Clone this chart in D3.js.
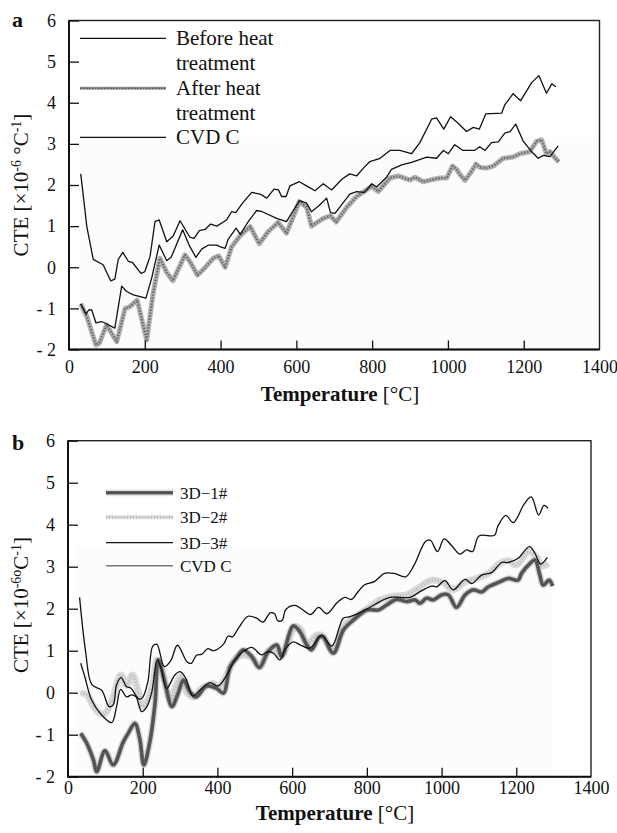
<!DOCTYPE html>
<html>
<head>
<meta charset="utf-8" />
<script src="https://cdn.jsdelivr.net/npm/d3@7"></script>
<style>
  body { margin: 0; background: #fff; }
  text { font-family: "Liberation Serif", "Times New Roman", serif; fill: #111; }
</style>
</head>
<body>
<script>
// axis ticks
var tempTicks = [0, 200, 400, 600, 800, 1000, 1200, 1400];
var cteTicks = [-2, -1, 0, 1, 2, 3, 4, 5, 6];

// CVD C (same curve in both panels)
var cvdT = [31,47,64,90,110,121,130,142,157,168,190,200,214,227,238,258,275,293,319,330,344,359,374,390,416,429,440,458,482,504,522,541,553,561,573,583,608,627,649,671,693,720,741,759,777,794,821,847,873,904,926,957,970,989,1007,1027,1049,1067,1083,1100,1142,1150,1172,1192,1221,1240,1260,1274,1285];
var cvdV = [2.27,0.99,0.19,0.06,-0.33,-0.29,0.19,0.36,0.14,0.11,-0.15,-0.11,0.27,1.11,1.15,0.62,0.76,1.13,0.73,0.70,0.89,0.92,1.05,1.00,1.15,1.35,1.33,1.56,1.82,1.78,1.68,1.90,1.88,1.72,1.72,1.98,2.08,1.98,1.86,2.03,1.88,2.14,2.27,2.22,2.41,2.57,2.65,2.84,2.84,2.76,3.03,3.60,3.63,3.36,3.66,3.50,3.30,3.40,3.36,3.73,3.75,3.95,4.22,4.05,4.49,4.66,4.23,4.46,4.39];

// panel a: before heat treatment
var beforeT = [31,45,52,60,71,86,100,121,139,152,170,203,218,238,258,270,300,319,335,350,368,390,398,412,420,441,452,473,495,510,548,574,608,627,640,660,680,690,702,741,759,780,799,812,838,851,878,904,944,970,988,1001,1018,1040,1070,1084,1098,1115,1133,1150,1164,1179,1199,1221,1238,1252,1269,1291];
var beforeV = [-0.89,-1.14,-1.04,-1.04,-1.35,-1.32,-1.38,-1.48,-0.46,-0.59,-0.67,-0.75,-0.27,0.54,0.16,0.25,0.91,0.50,0.24,0.44,0.54,0.54,0.50,0.46,0.68,0.95,0.80,1.11,1.38,1.35,1.19,1.11,1.62,1.56,1.35,1.50,1.68,1.33,1.31,1.78,1.84,1.82,2.03,1.95,2.19,2.38,2.49,2.55,2.68,2.65,2.84,2.76,2.98,2.84,2.84,2.93,2.84,3.03,3.05,3.26,3.30,3.48,3.06,2.81,2.65,2.72,2.69,2.95];

// panel a: after heat treatment
var afterT = [31,47,71,80,99,126,148,159,180,205,222,240,258,274,306,319,339,355,381,395,412,429,451,478,502,526,552,574,592,608,627,640,671,690,705,733,759,785,799,816,847,869,900,913,935,953,979,997,1012,1023,1032,1045,1062,1074,1084,1100,1120,1146,1172,1190,1216,1234,1247,1260,1269,1287,1293];
var afterV = [-0.89,-1.20,-1.89,-1.85,-1.40,-1.81,-1.00,-0.97,-0.80,-1.77,-0.63,0.22,-0.13,-0.33,0.30,0.14,-0.19,-0.05,0.22,0.28,0.00,0.49,0.76,0.99,0.57,0.87,1.09,0.83,1.23,1.60,1.46,1.00,1.19,1.25,1.10,1.46,1.72,1.88,1.97,1.84,2.17,2.22,2.12,2.19,2.08,2.12,2.17,2.17,2.46,2.38,2.25,2.11,2.33,2.51,2.43,2.41,2.46,2.65,2.68,2.76,2.81,3.06,3.10,2.76,2.81,2.61,2.56];

// panel b: 3D-1#
var d1T = [34,50,68,77,99,121,148,161,179,192,203,219,233,242,260,278,295,309,327,343,371,398,416,434,451,469,492,512,536,559,572,603,621,639,652,673,683,710,737,764,800,831,853,880,907,929,942,960,978,1000,1018,1040,1063,1085,1107,1125,1156,1179,1205,1214,1237,1250,1263,1272,1288,1297];
var d1V = [-0.97,-1.20,-1.60,-1.88,-1.38,-1.72,-1.17,-0.97,-0.73,-1.10,-1.72,-1.17,-0.25,0.78,0.22,-0.33,-0.01,0.30,0.02,-0.10,0.16,0.10,-0.01,0.62,0.82,1.02,0.86,0.60,0.98,1.14,0.86,1.59,1.45,1.14,1.02,1.33,1.33,0.94,1.49,1.73,1.97,1.97,2.09,2.22,2.17,2.21,2.13,2.25,2.21,2.33,2.33,2.03,2.33,2.45,2.40,2.52,2.64,2.72,2.68,2.84,3.08,3.16,2.80,2.56,2.68,2.54];

// panel b: 3D-2#
var d2T = [34,50,68,84,99,120,141,157,173,188,200,215,228,239,255,273,288,302,318,335,358,389,405,429,452,470,490,514,532,550,572,590,608,621,639,666,679,710,737,764,800,835,871,907,938,973,1005,1031,1063,1094,1125,1156,1179,1201,1232,1254,1268,1286];
var d2V = [-0.01,-0.05,-0.33,-0.49,-0.49,-0.13,0.42,0.18,0.42,0.02,-0.33,-0.15,0.25,0.78,0.42,-0.17,0.15,0.38,0.02,-0.10,0.10,0.22,0.15,0.50,0.86,0.90,0.85,0.62,0.94,1.05,0.90,1.25,1.57,1.53,1.18,1.37,1.37,0.98,1.57,1.77,1.99,2.21,2.30,2.33,2.49,2.68,2.62,2.45,2.64,2.72,2.84,3.08,3.14,3.04,3.36,3.24,3.02,3.08];

// panel b: 3D-3#
var d3T = [34,45,63,90,117,130,141,157,170,182,197,210,224,239,250,264,286,300,315,334,353,380,402,425,447,469,492,518,535,550,567,581,603,621,648,679,706,737,755,777,804,835,862,889,915,947,973,987,1009,1031,1063,1081,1107,1134,1161,1179,1205,1235,1250,1265,1283];
var d3V = [0.70,0.38,-0.17,-0.53,-0.71,-0.33,0.08,-0.10,-0.05,-0.10,-0.45,-0.35,0.00,0.78,0.55,0.10,0.42,0.50,0.35,-0.08,0.06,0.24,0.16,0.42,0.78,0.98,1.08,0.90,0.98,0.94,0.78,1.03,1.21,1.14,1.06,1.37,1.11,1.77,1.81,1.89,2.01,2.17,2.27,2.27,2.27,2.43,2.54,2.52,2.67,2.45,2.70,2.60,2.80,2.86,3.10,3.10,3.20,3.48,3.32,3.06,3.22];

var W = 617, H = 833;
var svg = d3.select("body").append("svg").attr("width", W).attr("height", H);

function pts(T, V) { return d3.zip(T, V); }

function makePanel(o) {
  var x = d3.scaleLinear().domain([0, 1400]).range([o.left, o.right]);
  var y = d3.scaleLinear().domain([-2, 6]).range([o.bottom, o.top]);
  var g = svg.append("g");

  // faint shading behind the data (scan background)
  g.append("rect")
    .attr("x", o.shade[0]).attr("y", o.shade[1])
    .attr("width", o.shade[2] - o.shade[0]).attr("height", o.bottom - o.shade[1])
    .attr("fill", "#fcfcfc");

  o.series.forEach(function(s) {
    var line = d3.line().x(function(d) { return x(d[0]); }).y(function(d) { return y(d[1]); })
      .curve(o.smooth ? d3.curveCatmullRom : d3.curveLinear);
    s.strokes.forEach(function(st) {
      g.append("path").datum(pts(s.T, s.V))
        .attr("fill", "none")
        .attr("stroke", st.c).attr("stroke-width", st.w)
        .attr("stroke-dasharray", st.dash || null)
        .attr("stroke-opacity", st.op || 1)
        .attr("stroke-linejoin", "round")
        .attr("d", line);
    });
  });

  // frame
  g.append("rect")
    .attr("x", o.left).attr("y", o.top)
    .attr("width", o.right - o.left).attr("height", o.bottom - o.top)
    .attr("fill", "none").attr("stroke", "#222").attr("stroke-width", 1.4);
  g.append("path")
    .attr("d", "M" + o.left + "," + o.top + "V" + o.bottom + "H" + o.right)
    .attr("fill", "none").attr("stroke", "#111").attr("stroke-width", 2);

  var xa = g.append("g").attr("transform", "translate(0," + o.bottom + ")")
    .call(d3.axisBottom(x).tickValues(tempTicks).tickSizeInner(-9).tickSizeOuter(0)
      .tickPadding(o.xPad).tickFormat(d3.format("d")));
  var ya = g.append("g").attr("transform", "translate(" + o.left + ",0)")
    .call(d3.axisLeft(y).tickValues(cteTicks).tickSizeInner(-10).tickSizeOuter(0).tickPadding(13)
      .tickFormat(function(d) { return d < 0 ? "- " + Math.abs(d) : d; }));
  [xa, ya].forEach(function(a) {
    a.select(".domain").remove();
    a.selectAll("line").attr("stroke", "#111").attr("stroke-width", 1.3);
    a.selectAll("text").attr("font-family", "Liberation Serif").attr("font-size", 18).attr("fill", "#111");
  });
  xa.selectAll(".tick").filter(function(d) { return d === 0 || d === 1400; }).select("line").remove();

  // x title
  var xt = g.append("text").attr("x", o.xTitle[0]).attr("y", o.xTitle[1])
    .attr("text-anchor", "middle").attr("font-size", 21);
  xt.append("tspan").attr("font-weight", "bold").text("Temperature");
  xt.append("tspan").text(" [°C]");

  // y title
  var yt = g.append("text")
    .attr("transform", "translate(" + o.yTitle[0] + "," + o.yTitle[1] + ") rotate(-90)")
    .attr("text-anchor", "middle").attr("font-size", 21);
  o.yParts.forEach(function(p) {
    var t = yt.append("tspan").text(p[0]);
    if (p[1]) t.attr("font-size", 14).attr("baseline-shift", "super");
  });

  // panel letter
  g.append("text").attr("x", o.letter[0]).attr("y", o.letter[1])
    .attr("font-size", 22).attr("font-weight", "bold").text(o.name);

  // legend
  var lg = g.append("g");
  o.legend.forEach(function(l) {
    if (l.strokes) {
      l.strokes.forEach(function(st) {
        lg.append("line")
          .attr("x1", o.legX[0]).attr("x2", o.legX[1]).attr("y1", l.y).attr("y2", l.y)
          .attr("stroke", st.c).attr("stroke-width", st.w)
          .attr("stroke-dasharray", st.dash || null).attr("stroke-opacity", st.op || 1);
      });
    }
    lg.append("text").attr("x", o.legX[2]).attr("y", l.y + o.legDy)
      .attr("font-size", o.legFont).text(l.text);
  });
}

var thin = [{ c: "#111", w: 1.3 }];
var afterStyle = [{ c: "#b0b0b0", w: 5 }, { c: "#6a6a6a", w: 2.2, dash: "1.5,1.5" }];
var d1Style = [{ c: "#aaa", w: 6.5, op: 0.45 }, { c: "#5e5e5e", w: 3.8 }, { c: "#3c3c3c", w: 1.6, dash: "1,1.5" }];
var d2Style = [{ c: "#dadada", w: 7 }, { c: "#b8b8b8", w: 3, dash: "1,2" }];

makePanel({
  name: "a", letter: [12, 27],
  left: 69, right: 599.5, top: 20.5, bottom: 349.5,
  shade: [79, 137, 597],
  smooth: false, xPad: 11,
  series: [
    { T: afterT, V: afterV, strokes: afterStyle },
    { T: beforeT, V: beforeV, strokes: thin },
    { T: cvdT, V: cvdV, strokes: thin }
  ],
  xTitle: [340, 401],
  yTitle: [28, 185],
  yParts: [["CTE [×10"], ["-6", true], [" °C"], ["-1", true], ["]"]],
  legX: [80, 166, 176], legDy: 7, legFont: 21,
  legend: [
    { y: 38.3, text: "Before heat", strokes: thin },
    { y: 63, text: "treatment" },
    { y: 88.3, text: "After heat", strokes: [{ c: "#999", w: 3 }, { c: "#555", w: 1.5, dash: "1.5,1.5" }] },
    { y: 113, text: "treatment" },
    { y: 137.3, text: "CVD C", strokes: thin }
  ]
});

makePanel({
  name: "b", letter: [12, 450],
  left: 68, right: 591, top: 440.7, bottom: 776.7,
  shade: [77, 547, 553],
  smooth: true, xPad: 5,
  series: [
    { T: d2T, V: d2V, strokes: d2Style },
    { T: d1T, V: d1V, strokes: d1Style },
    { T: d3T, V: d3V, strokes: thin },
    { T: cvdT, V: cvdV, strokes: thin }
  ],
  xTitle: [335, 820],
  yTitle: [28, 605],
  yParts: [["CTE [×10"], ["-6o", true], ["C"], ["-1", true], ["]"]],
  legX: [106, 173, 180], legDy: 6, legFont: 17,
  legend: [
    { y: 492.7, text: "3D\u22121#", strokes: [{ c: "#bbb", w: 7, op: 0.4 }, { c: "#5e5e5e", w: 3.5 }, { c: "#3c3c3c", w: 1.5, dash: "1,1.5" }] },
    { y: 517.3, text: "3D\u22122#", strokes: [{ c: "#ddd", w: 4 }, { c: "#aaa", w: 2, dash: "1,2" }] },
    { y: 542.7, text: "3D\u22123#", strokes: thin },
    { y: 565.7, text: "CVD C", strokes: [{ c: "#777", w: 1.5 }] }
  ]
});
</script>
</body>
</html>
